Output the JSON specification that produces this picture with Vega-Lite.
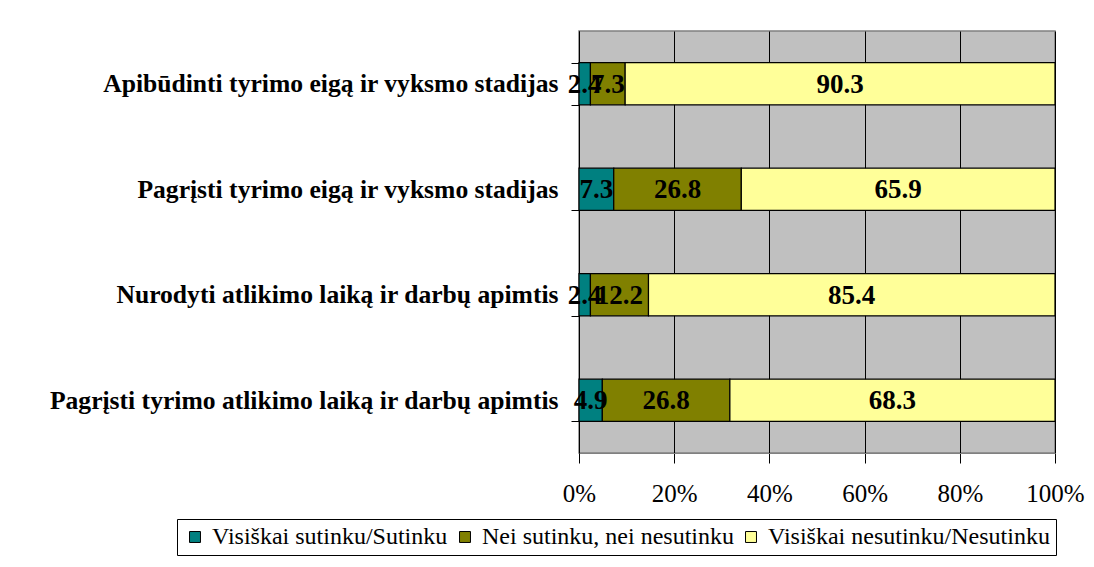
{
  "$schema": "https://vega.github.io/schema/vega-lite/v6.json",
  "autosize": "none",
  "width": 476,
  "height": 422,
  "padding": {"left": 579, "top": 31, "right": 39, "bottom": 114},
  "background": "white",
  "config": {
    "font": "Liberation Serif",
    "view": {"fill": "#C0C0C0", "stroke": "#808080", "strokeWidth": 1.5}
  },
  "data": {
    "values": [
      {"item": "Apibūdinti tyrimo eigą ir vyksmo stadijas", "cat": "Visiškai sutinku/Sutinku", "ord": 1, "value": 2.4},
      {"item": "Apibūdinti tyrimo eigą ir vyksmo stadijas", "cat": "Nei sutinku, nei nesutinku", "ord": 2, "value": 7.3},
      {"item": "Apibūdinti tyrimo eigą ir vyksmo stadijas", "cat": "Visiškai nesutinku/Nesutinku", "ord": 3, "value": 90.3},
      {"item": "Pagrįsti tyrimo eigą ir vyksmo stadijas", "cat": "Visiškai sutinku/Sutinku", "ord": 1, "value": 7.3},
      {"item": "Pagrįsti tyrimo eigą ir vyksmo stadijas", "cat": "Nei sutinku, nei nesutinku", "ord": 2, "value": 26.8},
      {"item": "Pagrįsti tyrimo eigą ir vyksmo stadijas", "cat": "Visiškai nesutinku/Nesutinku", "ord": 3, "value": 65.9},
      {"item": "Nurodyti atlikimo laiką ir darbų apimtis", "cat": "Visiškai sutinku/Sutinku", "ord": 1, "value": 2.4},
      {"item": "Nurodyti atlikimo laiką ir darbų apimtis", "cat": "Nei sutinku, nei nesutinku", "ord": 2, "value": 12.2},
      {"item": "Nurodyti atlikimo laiką ir darbų apimtis", "cat": "Visiškai nesutinku/Nesutinku", "ord": 3, "value": 85.4},
      {"item": "Pagrįsti tyrimo atlikimo laiką ir darbų apimtis", "cat": "Visiškai sutinku/Sutinku", "ord": 1, "value": 4.9},
      {"item": "Pagrįsti tyrimo atlikimo laiką ir darbų apimtis", "cat": "Nei sutinku, nei nesutinku", "ord": 2, "value": 26.8},
      {"item": "Pagrįsti tyrimo atlikimo laiką ir darbų apimtis", "cat": "Visiškai nesutinku/Nesutinku", "ord": 3, "value": 68.3}
    ]
  },
  "encoding": {
    "y": {
      "field": "item",
      "type": "nominal",
      "sort": ["Apibūdinti tyrimo eigą ir vyksmo stadijas", "Pagrįsti tyrimo eigą ir vyksmo stadijas", "Nurodyti atlikimo laiką ir darbų apimtis", "Pagrįsti tyrimo atlikimo laiką ir darbų apimtis"],
      "scale": {"paddingInner": 0.6, "paddingOuter": 0.3},
      "axis": {
        "title": null,
        "tickBand": "extent",
        "domainColor": "black",
        "tickColor": "black",
        "tickSize": 8,
        "labelPadding": 13,
        "labelFont": "Liberation Serif",
        "labelFontSize": 25.6,
        "labelFontWeight": "bold",
        "labelColor": "black",
        "labelLimit": 700
      }
    },
    "x": {
      "field": "value",
      "type": "quantitative",
      "stack": "normalize",
      "scale": {"domain": [0, 1], "nice": false},
      "axis": {
        "title": null,
        "format": ".0%",
        "values": [0, 0.2, 0.4, 0.6, 0.8, 1],
        "grid": true,
        "gridColor": "black",
        "gridOpacity": 1,
        "gridWidth": 1,
        "domainColor": "#808080",
        "tickColor": "black",
        "tickSize": 10,
        "labelPadding": 18,
        "labelFont": "Liberation Serif",
        "labelFontSize": 25,
        "labelColor": "black",
        "labelFlush": false
      }
    },
    "order": {"field": "ord", "type": "quantitative"}
  },
  "layer": [
    {
      "mark": {"type": "bar", "stroke": "black", "strokeWidth": 1.2},
      "encoding": {
        "color": {
          "field": "cat",
          "type": "nominal",
          "scale": {
            "domain": ["Visiškai sutinku/Sutinku", "Nei sutinku, nei nesutinku", "Visiškai nesutinku/Nesutinku"],
            "range": ["#008080", "#808000", "#FFFF99"]
          },
          "legend": {
            "title": null,
            "orient": "none",
            "direction": "horizontal",
            "legendX": -402,
            "legendY": 488,
            "strokeColor": "black",
            "fillColor": "white",
            "padding": 6,
            "symbolType": "square",
            "symbolSize": 120,
            "symbolStrokeColor": "black",
            "symbolStrokeWidth": 1,
            "labelFont": "Liberation Serif",
            "labelFontSize": 24,
            "labelColor": "black",
            "labelLimit": 400,
            "columnPadding": 5,
            "labelOffset": 5
          }
        }
      }
    },
    {
      "mark": {"type": "text", "font": "Liberation Serif", "fontSize": 27, "fontWeight": "bold", "color": "black", "align": "center", "baseline": "middle", "dy": 1},
      "encoding": {
        "x": {"field": "value", "type": "quantitative", "stack": "normalize", "bandPosition": 0.5},
        "text": {"field": "value", "type": "quantitative", "format": ".1f"}
      }
    }
  ]
}
